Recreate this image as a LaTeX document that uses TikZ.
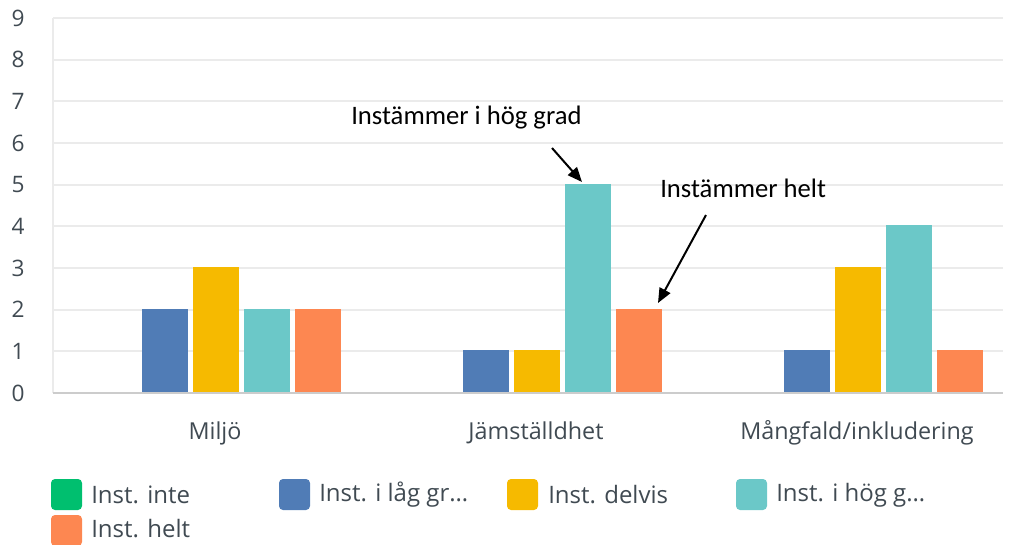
\documentclass[tikz,border=0pt]{standalone}
\usepackage{fontspec}
\setmainfont{Open Sans}
\newfontfamily\annfont{Carlito}
\usetikzlibrary{arrows.meta}
\definecolor{smgreen}{HTML}{00BF6F}
\definecolor{smblue}{HTML}{507CB6}
\definecolor{smyellow}{HTML}{F6BA00}
\definecolor{smteal}{HTML}{6BC8C8}
\definecolor{smorange}{HTML}{FD8751}
\definecolor{gridgray}{HTML}{EBEBEB}
\definecolor{axgray}{HTML}{CCCCCC}
\definecolor{axtext}{HTML}{404A52}
\begin{document}
\begin{tikzpicture}[x=0.75pt,y=-0.75pt,
  tal/.style={font=\fontsize{17}{20}\selectfont,text=axtext},
  kat/.style={font=\fontsize{17.5}{21}\selectfont,text=axtext},
  leg/.style={font=\fontsize{18}{21}\selectfont,text=axtext,anchor=west,inner sep=0pt},
  ruta/.style={rounded corners=3pt},
  ann/.style={font=\annfont\fontsize{20}{24}\selectfont,anchor=west,inner sep=0pt},
  pil/.style={-{Triangle[length=11pt,width=9pt]},line width=1.5pt}]
\useasboundingbox (0,0) rectangle (1011,544);
% Rutnät och skala
\foreach \v in {1,...,9}{\draw[gridgray,line width=1.5pt] (53,393-41.67*\v) -- (1003,393-41.67*\v);
 \node[tal] (t\v) at (18,393-41.67*\v) {\v};}
\node[tal] (t0) at (18,393) {0};
\draw[gridgray,line width=1.5pt] (53,18) -- (53,393);
\draw[axgray,line width=1.5pt] (53,393) -- (1003,393);
% Staplar: låg grad, delvis, hög grad, helt
\foreach \g/\vb/\vy/\vt/\vo in {0/2/3/2/2, 1/1/1/5/2, 2/1/3/4/1}{
 \fill[smblue] (142+321*\g,392) rectangle ++(46,-41.67*\vb);
 \fill[smyellow] (193+321*\g,392) rectangle ++(46,-41.67*\vy);
 \fill[smteal] (244+321*\g,392) rectangle ++(46,-41.67*\vt);
 \fill[smorange] (295+321*\g,392) rectangle ++(46,-41.67*\vo);}
% Kategorier
\node[kat] (miljo) at (215,433) {Miljö};
\node[kat] (jamst) at (536,433) {Jämställdhet};
\node[kat] (mangf) at (857,433) {Mångfald/inkludering};
% Förklaring
\fill[smgreen,ruta] (51,479) rectangle (82,510); \node[leg] (inte) at (91,495) {Inst. inte};
\fill[smblue,ruta] (279,479) rectangle (310,510); \node[leg] (lag) at (319,495) {Inst. i låg gr…};
\fill[smyellow,ruta] (507,479) rectangle (538,510); \node[leg] (delvis) at (548,495) {Inst. delvis};
\fill[smteal,ruta] (736,479) rectangle (767,510); \node[leg] (hog) at (776,495) {Inst. i hög g…};
\fill[smorange,ruta] (51,515) rectangle (82,546); \node[leg] (helt) at (91,529) {Inst. helt};
% Kommentarer med pilar
\node[ann] (hoglbl) at (351,118) {Instämmer i hög grad};
\node[ann] (heltlbl) at (660,188) {Instämmer helt};
\coordinate (hogfran) at (552,148); \coordinate (hogtill) at (582,182);
\coordinate (heltfran) at (706,215); \coordinate (helttill) at (658,303);
\draw[pil] (hogfran) -- (hogtill);
\draw[pil] (heltfran) -- (helttill);
\end{tikzpicture}
\end{document}
